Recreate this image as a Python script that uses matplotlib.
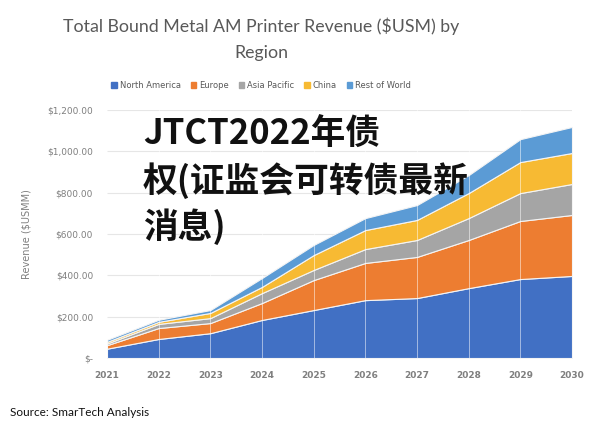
import numpy as np
import matplotlib
matplotlib.use("Agg")
import matplotlib.pyplot as plt
from matplotlib.patches import Patch

# values (stacked area, $USM)
years = [2021, 2022, 2023, 2024, 2025, 2026, 2027, 2028, 2029, 2030]
north_america = [45, 92, 120, 184, 232, 280, 290, 338, 382, 397]
europe = [17, 53, 49, 82, 145, 180, 199, 233, 281, 295]
asia_pacific = [8, 20, 24, 48, 49, 67, 82, 106, 135, 150]
china = [8, 10, 25, 30, 72, 92, 97, 121, 150, 150]
rest_of_world = [10, 10, 14, 43, 49, 58, 72, 87, 111, 126]

regions = ["North America", "Europe", "Asia Pacific", "China", "Rest of World"]
colors = ["#4170C4", "#ED7D31", "#A5A5A5", "#F7BA33", "#5B9BD5"]
yticks = [0, 200, 400, 600, 800, 1000, 1200]
ytick_labels = ["$-", "$200.00", "$400.00", "$600.00", "$800.00", "$1,000.00", "$1,200.00"]

fig = plt.figure(figsize=(6.14, 4.26), dpi=100)
ax = fig.add_axes([107 / 614, 1 - 358 / 426, 465 / 614, 248 / 426])

ax.stackplot(years, north_america, europe, asia_pacific, china, rest_of_world,
             colors=colors, edgecolor="#f4f4f4", linewidth=0.8, zorder=2)
for y in years:
    ax.axvline(y, color="white", lw=0.6, alpha=0.6, zorder=3)

ax.set_xlim(2021, 2030)
ax.set_ylim(0, 1200)
ax.set_yticks(yticks)
ax.set_yticklabels(ytick_labels)
ax.set_xticks(years)
ax.grid(axis="y", color="#e6e6e6", lw=0.8, zorder=0)
for s in ax.spines.values():
    s.set_visible(False)
ax.tick_params(length=0, colors="#7f7f7f", labelsize=6.5)
ax.tick_params(axis="x", pad=9)
ax.tick_params(axis="y", pad=10)
for t in ax.get_xticklabels():
    t.set_fontweight("bold")
ax.set_ylabel("Revenue ($USMM)", color="#7f7f7f", fontsize=7, labelpad=11)

cx = 261 / 614
fig.text(cx, 1 - 26 / 426, "Total Bound Metal AM Printer Revenue ($USM) by",
         ha="center", va="center", fontsize=12.8, color="#595959", family="Lato")
fig.text(cx, 1 - 53 / 426, "Region",
         ha="center", va="center", fontsize=12.8, color="#595959", family="Lato")

handles = [Patch(color=c, label=r) for c, r in zip(colors, regions)]
fig.legend(handles=handles, loc="center", bbox_to_anchor=(cx, 1 - 85 / 426),
           ncol=5, frameon=False, fontsize=6, handlelength=0.7, handleheight=0.7,
           handletextpad=0.3, columnspacing=1.2, labelcolor="#595959")

fig.text(10 / 614, 1 - 413 / 426, "Source: SmarTech Analysis", ha="left", va="center",
         fontsize=8.5, color="#111111", family="Lato")

# watermark overlay text
fig.text(143 / 614, 1 - 117 / 426, "JTCT2022年债\n权(证监会可转债最新\n消息)",
         ha="left", va="top", fontsize=25, fontweight="black", color="#111111",
         family=["Liberation Sans Narrow", "Noto Sans CJK SC", "DejaVu Sans"],
         linespacing=1.33, zorder=10)

fig.savefig("out.png", dpi=100)
